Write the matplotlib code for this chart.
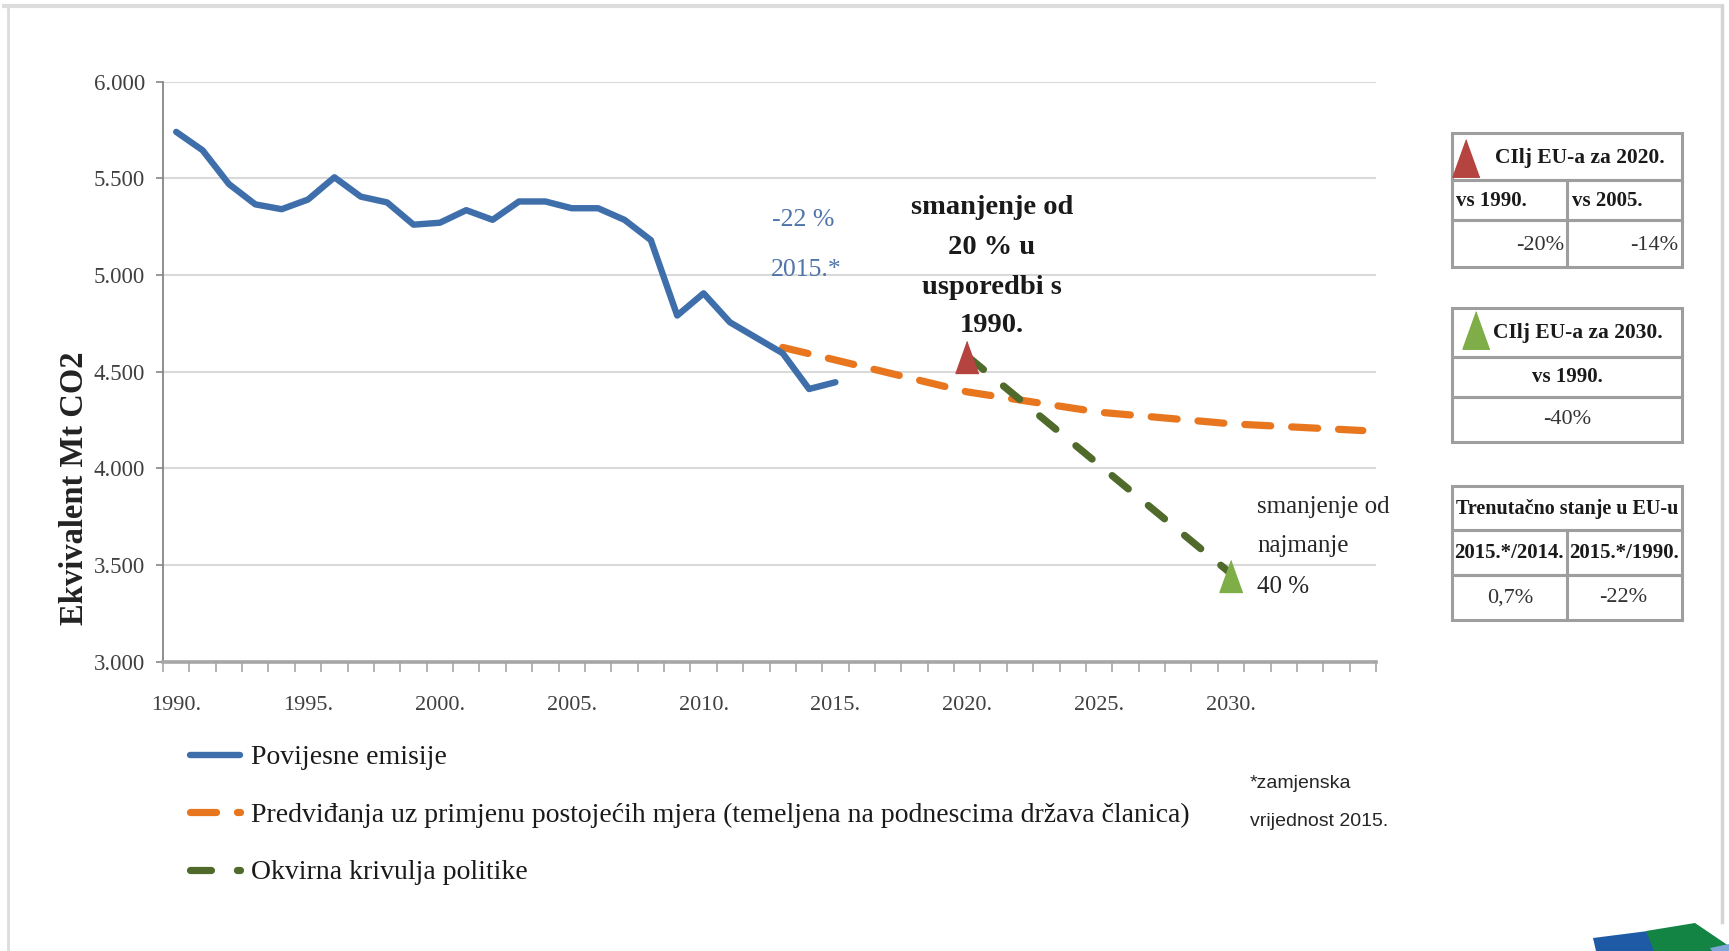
import matplotlib
matplotlib.use('Agg')
import matplotlib.pyplot as plt
from matplotlib.patches import Rectangle, Polygon
from matplotlib.ticker import FixedLocator

# ---------------- data ----------------
hist_years = list(range(1990, 2016))
hist_values = [5740, 5645, 5470, 5365, 5340, 5390, 5505, 5405, 5375, 5260,
               5270, 5335, 5285, 5380, 5380, 5345, 5345, 5285, 5180, 4790,
               4905, 4755, 4675, 4595, 4410, 4445]
proj_years = [2013, 2015, 2020, 2025, 2030, 2035]
proj_values = [4625, 4560, 4395, 4290, 4230, 4195]
policy_years = [2020, 2030]
policy_values = [4580, 3455]
target_years = [2020, 2030]
target_values = [4575, 3445]
ytick_values = [3000, 3500, 4000, 4500, 5000, 5500, 6000]
ytick_labels = ['3.000', '3.500', '4.000', '4.500', '5.000', '5.500', '6.000']
xtick_years = [1990, 1995, 2000, 2005, 2010, 2015, 2020, 2025, 2030]
xtick_labels = ['1990.', '1995.', '2000.', '2005.', '2010.', '2015.', '2020.', '2025.', '2030.']
category_first, category_last = 1990, 2035
legend_labels = ['Povijesne emisije',
                 'Predviđanja uz primjenu postojećih mjera (temeljena na podnescima država članica)',
                 'Okvirna krivulja politike']

# ---------------- style ----------------
BLUE = '#3f6fab'
ORANGE = '#e8761e'
DGREEN = '#4f6a2a'
RED_TRI = '#b5433f'
GREEN_TRI = '#7fae48'
SERIF = ['Liberation Serif', 'DejaVu Serif']
plt.rcParams['font.family'] = SERIF

W, H = 1729, 951
fig = plt.figure(figsize=(W / 100, H / 100), dpi=100)
fig.patch.set_facecolor('white')

def fx(px):
    return px / W

def fy(py):
    return 1 - py / H

# decoration layer (pixel coordinates, y downwards)
deco = fig.add_axes([0, 0, 1, 1], zorder=0)
deco.set_xlim(0, W)
deco.set_ylim(H, 0)
deco.axis('off')
deco.patch.set_alpha(0)

# page frame
deco.plot([2, 1724], [6, 6], color='#dcdcdc', lw=3, solid_capstyle='butt')
deco.plot([8, 8], [6, H], color='#dcdcdc', lw=2)
deco.plot([1722, 1722], [6, 922], color='#d4d4d4', lw=2.5)

# ---------------- main axes ----------------
left, right, top, bottom = 163, 1376, 81.6, 661.6
ax = fig.add_axes([fx(left), fy(bottom), (right - left) / W, (bottom - top) / H], zorder=2)
ax.patch.set_alpha(0)

ax.plot(hist_years, hist_values, color=BLUE, lw=4.6, solid_joinstyle='round',
        solid_capstyle='round', zorder=4, label=legend_labels[0])
ax.plot(proj_years, proj_values, color=ORANGE, lw=5.2, dashes=(3.6, 2.9),
        dash_capstyle='round', zorder=3, label=legend_labels[1])
ax.plot(policy_years, policy_values, color=DGREEN, lw=5.2, dashes=(2.9, 3.6),
        dash_capstyle='round', zorder=3, label=legend_labels[2])

tri = [(0, 1), (-0.72, -1), (0.72, -1)]
ax.plot([target_years[0]], [target_values[0]], marker=tri, markersize=23,
        color=RED_TRI, ls='none', zorder=5)
ax.plot([target_years[1]], [target_values[1]], marker=tri, markersize=23,
        color=GREEN_TRI, ls='none', zorder=5)

ax.set_xlim(category_first - 0.5, category_last + 0.5)
ax.set_ylim(3000, 6000)
ax.set_yticks(ytick_values)
ax.set_yticklabels(ytick_labels, fontsize=16.5, color='#404040')
ax.set_xticks(xtick_years)
ax.set_xticklabels(xtick_labels, fontsize=16, color='#404040')
ax.xaxis.set_minor_locator(FixedLocator([y - 0.5 for y in range(category_first, category_last + 2)]))
ax.tick_params(axis='x', which='major', length=0, pad=25)
ax.tick_params(axis='x', which='minor', length=7, width=1.2, color='#a6a6a6', direction='out')
ax.tick_params(axis='y', which='major', length=5, width=1.2, color='#868686', pad=8)
ax.yaxis.grid(True, color='#d9d9d9', lw=1.5)
ax.set_axisbelow(True)
for s in ['top', 'right']:
    ax.spines[s].set_visible(False)
ax.spines['left'].set_color('#868686')
ax.spines['left'].set_linewidth(1.3)
ax.spines['bottom'].set_color('#a6a6a6')
ax.spines['bottom'].set_linewidth(2.6)

fig.text(fx(75), fy(488), 'Ekvivalent Mt CO2', rotation=90, ha='center', va='center',
         fontsize=23.5, fontweight='bold', color='#222222')

# annotations
fig.text(fx(803), fy(220), '-22 %', ha='center', va='center', fontsize=18.5, color='#4f74aa')
fig.text(fx(806), fy(270), '2015.*', ha='center', va='center', fontsize=18.5, color='#4f74aa')

for txt, py in zip(['smanjenje od', '20 % u', 'usporedbi s', '1990.'], [207, 248, 287, 326]):
    fig.text(fx(992), fy(py), txt, ha='center', va='center', fontsize=20.5,
             fontweight='bold', color='#1a1a1a')

for txt, py in zip(['smanjenje od', 'najmanje', '40 %'], [507, 546, 587]):
    fig.text(fx(1257), fy(py), txt, ha='left', va='center', fontsize=18, color='#262626')

fig.text(fx(1250), fy(783), '*zamjenska', ha='left', va='center', fontsize=14,
         color='#262626', family=['Liberation Sans', 'DejaVu Sans'])
fig.text(fx(1250), fy(821), 'vrijednost 2015.', ha='left', va='center', fontsize=14,
         color='#262626', family=['Liberation Sans', 'DejaVu Sans'])

# legend
handles, labels = ax.get_legend_handles_labels()
leg = fig.legend(handles, labels, loc='upper left', bbox_to_anchor=(fx(190), fy(745)),
                 frameon=False, fontsize=20, handlelength=1.8, handletextpad=0.4,
                 labelspacing=1.15, borderpad=0, borderaxespad=0)
for t in leg.get_texts():
    t.set_color('#1a1a1a')

# ---------------- side tables ----------------
EDGE = '#9e9e9e'

def box(x0, y0, x1, y1):
    deco.add_patch(Rectangle((x0, y0), x1 - x0, y1 - y0, fill=False, ec=EDGE, lw=2.2))

def vline(x, y0, y1):
    deco.plot([x, x], [y0, y1], color=EDGE, lw=2.2)

tx0, tx1, tsplit = 1452, 1682, 1567

# table 1
r = [133, 180, 220, 267]
for i in range(3):
    box(tx0, r[i], tx1, r[i + 1])
vline(tsplit, r[1], r[3])
deco.plot([1466], [158], marker=tri, markersize=27, color=RED_TRI, ls='none')
deco.text(1580, 158, 'CIlj EU-a za 2020.', ha='center', va='center', fontsize=15.5, fontweight='bold', color='#1a1a1a')
deco.text(1456, 201, 'vs 1990.', ha='left', va='center', fontsize=15, fontweight='bold', color='#1a1a1a')
deco.text(1572, 201, 'vs 2005.', ha='left', va='center', fontsize=15, fontweight='bold', color='#1a1a1a')
deco.text(1564, 246, '-20%', ha='right', va='center', fontsize=16, color='#333333')
deco.text(1678, 246, '-14%', ha='right', va='center', fontsize=16, color='#333333')

# table 2
r = [308, 357, 397, 442]
for i in range(3):
    box(tx0, r[i], tx1, r[i + 1])
deco.plot([1476], [330], marker=tri, markersize=27, color=GREEN_TRI, ls='none')
deco.text(1578, 333, 'CIlj EU-a za 2030.', ha='center', va='center', fontsize=15.5, fontweight='bold', color='#1a1a1a')
deco.text(1567, 377, 'vs 1990.', ha='center', va='center', fontsize=15, fontweight='bold', color='#1a1a1a')
deco.text(1567, 420, '-40%', ha='center', va='center', fontsize=16, color='#333333')

# table 3
r = [486, 530, 575, 620]
for i in range(3):
    box(tx0, r[i], tx1, r[i + 1])
vline(tsplit, r[1], r[3])
deco.text(1567, 509, 'Trenutačno stanje u EU-u', ha='center', va='center', fontsize=14.5, fontweight='bold', color='#1a1a1a')
deco.text(1509, 553, '2015.*/2014.', ha='center', va='center', fontsize=15, fontweight='bold', color='#1a1a1a')
deco.text(1624, 553, '2015.*/1990.', ha='center', va='center', fontsize=15, fontweight='bold', color='#1a1a1a')
deco.text(1510, 598, '0,7%', ha='center', va='center', fontsize=16, color='#333333')
deco.text(1623, 598, '-22%', ha='center', va='center', fontsize=16, color='#333333')

# corner logo (puzzle pieces)
deco.add_patch(Polygon([(1593, 938), (1648, 931), (1656, 951), (1596, 951)], closed=True,
                       fc='#1f5aa6', ec='none'))
deco.add_patch(Polygon([(1646, 931), (1695, 923), (1729, 946), (1729, 951), (1654, 951)],
                       closed=True, fc='#138443', ec='none'))
deco.add_patch(Polygon([(1710, 948), (1729, 944), (1729, 951), (1712, 951)], closed=True,
                       fc='#7ea7d8', ec='none'))

fig.savefig('out.png', dpi=100, facecolor='white')
